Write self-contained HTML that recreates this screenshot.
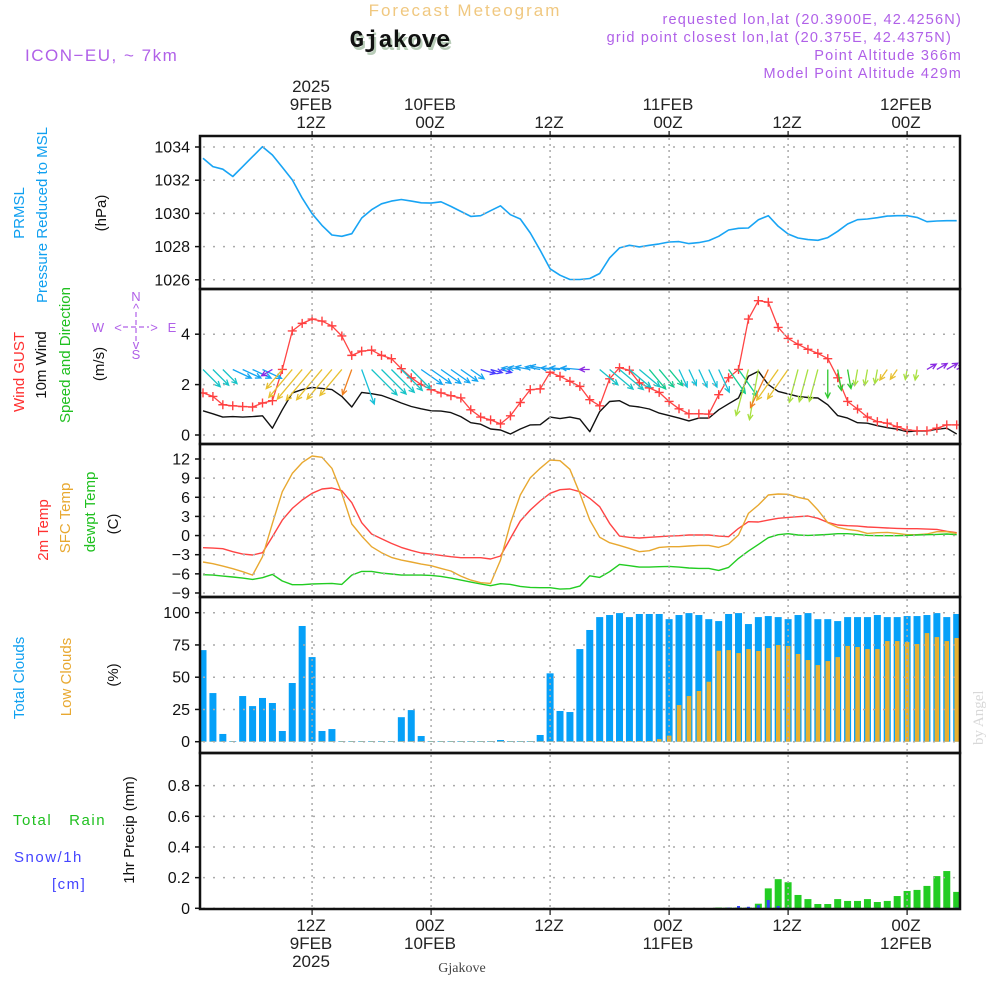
<!DOCTYPE html>
<html><head><meta charset="utf-8"><style>
html,body{margin:0;padding:0;background:#fff;}
svg{display:block;font-family:"Liberation Sans","DejaVu Sans",sans-serif;}
</style></head><body>
<svg id="chart" width="1000" height="1000" viewBox="0 0 1000 1000" xmlns="http://www.w3.org/2000/svg">
<defs><clipPath id="plotclip"><rect x="200" y="136" width="760" height="774"/></clipPath></defs>
<g id="texts">
<text x="465" y="16" font-size="17" fill="#f0c880" text-anchor="middle" letter-spacing="2">Forecast Meteogram</text>
<text x="402" y="50" font-size="24" font-weight="bold" fill="#b8ccb8" text-anchor="middle" font-family="Liberation Mono, monospace">Gjakove</text>
<text x="400" y="47" font-size="24" font-weight="bold" fill="#111" text-anchor="middle" font-family="Liberation Mono, monospace">Gjakove</text>
<text x="25" y="61" font-size="17" fill="#b060e8" letter-spacing="1.5">ICON−EU, ~ 7km</text>
<g fill="#b060e8" font-size="14.5" text-anchor="end" letter-spacing="1.2">
<text x="962" y="24">requested lon,lat (20.3900E, 42.4256N)</text>
<text x="952" y="42">grid point closest lon,lat (20.375E, 42.4375N)</text>
<text x="962" y="60">Point Altitude 366m</text>
<text x="962" y="78">Model Point Altitude 429m</text>
</g>
<g fill="#222" font-size="17" text-anchor="middle">
<text x="311" y="92">2025</text>
<text x="311" y="110">9FEB</text>
<text x="311" y="128">12Z</text>
<text x="430" y="110">10FEB</text>
<text x="430" y="128">00Z</text>
<text x="549" y="128">12Z</text>
<text x="668" y="110">11FEB</text>
<text x="668" y="128">00Z</text>
<text x="787" y="128">12Z</text>
<text x="906" y="110">12FEB</text>
<text x="906" y="128">00Z</text>
<text x="311" y="931">12Z</text>
<text x="311" y="949">9FEB</text>
<text x="311" y="967">2025</text>
<text x="430" y="931">00Z</text>
<text x="430" y="949">10FEB</text>
<text x="549" y="931">12Z</text>
<text x="668" y="931">00Z</text>
<text x="668" y="949">11FEB</text>
<text x="787" y="931">12Z</text>
<text x="906" y="931">00Z</text>
<text x="906" y="949">12FEB</text>
</g>
<text x="462" y="972" font-size="14" fill="#444" text-anchor="middle" font-family="Liberation Serif, serif">Gjakove</text>
<text transform="translate(983,745) rotate(-90)" font-size="15" fill="#d8d8d8" font-family="Liberation Serif, serif">by Angel</text>
<g font-size="15">
<text transform="translate(24,213) rotate(-90)" fill="#10a0f0" text-anchor="middle">PRMSL</text>
<text transform="translate(47,215) rotate(-90)" fill="#10a0f0" text-anchor="middle">Pressure Reduced to MSL</text>
<text transform="translate(106,213) rotate(-90)" fill="#111" text-anchor="middle">(hPa)</text>
<text transform="translate(24,372) rotate(-90)" fill="#ff3030" text-anchor="middle">Wind GUST</text>
<text transform="translate(46,365) rotate(-90)" fill="#111" text-anchor="middle">10m Wind</text>
<text transform="translate(70,355) rotate(-90)" fill="#20c020" text-anchor="middle">Speed and Direction</text>
<text transform="translate(104,364) rotate(-90)" fill="#111" text-anchor="middle">(m/s)</text>
<text transform="translate(48,530) rotate(-90)" fill="#ff3030" text-anchor="middle">2m Temp</text>
<text transform="translate(70,518) rotate(-90)" fill="#e8a830" text-anchor="middle">SFC Temp</text>
<text transform="translate(95,512) rotate(-90)" fill="#20c020" text-anchor="middle">dewpt Temp</text>
<text transform="translate(118,524) rotate(-90)" fill="#111" text-anchor="middle">(C)</text>
<text transform="translate(24,678) rotate(-90)" fill="#10a0f0" text-anchor="middle">Total Clouds</text>
<text transform="translate(71,677) rotate(-90)" fill="#e8a830" text-anchor="middle">Low Clouds</text>
<text transform="translate(118,675) rotate(-90)" fill="#111" text-anchor="middle">(%)</text>
<text transform="translate(134,830) rotate(-90)" fill="#111" text-anchor="middle">1hr Precip (mm)</text>
</g>
<g font-size="15" letter-spacing="1.5">
<text x="13" y="825" fill="#20c020" xml:space="preserve">Total   Rain</text>
<text x="14" y="862" fill="#4444ff">Snow/1h</text>
<text x="52" y="889" fill="#4444ff">[cm]</text>
</g>
<g fill="#b060e8" stroke="none" font-size="13" text-anchor="middle">
<text x="136" y="301">N</text><text x="136" y="359">S</text><text x="98" y="332">W</text><text x="172" y="332">E</text>
<text x="136" y="313">^</text><text x="136" y="349">v</text>
<text x="118" y="332">&lt;</text><text x="154" y="332">&gt;</text>
<line x1="123" y1="327" x2="149" y2="327" stroke="#b060e8" stroke-width="1.2" stroke-dasharray="5,3"/>
<line x1="136" y1="312" x2="136" y2="343" stroke="#b060e8" stroke-width="1.2" stroke-dasharray="5,3"/>
</g>
</g>
<g id="plots"></g>
</svg>
<script>
const pressure=[1033.32,1032.82,1032.66,1032.22,1032.82,1033.42,1034.02,1033.52,1032.78,1032.02,1030.92,1029.98,1029.28,1028.7,1028.62,1028.78,1029.72,1030.22,1030.58,1030.74,1030.84,1030.74,1030.64,1030.62,1030.7,1030.42,1030.12,1029.82,1029.86,1030.16,1030.46,1029.92,1029.66,1028.82,1027.78,1026.66,1026.28,1026.02,1026.02,1026.08,1026.38,1027.32,1027.92,1028.08,1027.98,1028.08,1028.16,1028.28,1028.3,1028.18,1028.24,1028.36,1028.62,1029.0,1029.1,1029.12,1029.62,1029.86,1029.22,1028.76,1028.52,1028.42,1028.38,1028.54,1028.92,1029.36,1029.62,1029.66,1029.74,1029.84,1029.86,1029.86,1029.76,1029.5,1029.54,1029.56,1029.56];
const gust=[1.67,1.53,1.2,1.16,1.13,1.11,1.27,1.36,2.6,4.13,4.43,4.6,4.52,4.33,3.93,3.16,3.33,3.37,3.16,3.03,2.63,2.27,2.0,1.8,1.67,1.56,1.47,1.0,0.71,0.6,0.44,0.76,1.29,1.8,1.83,2.49,2.33,2.13,1.93,1.4,1.16,2.23,2.67,2.57,2.07,1.87,1.69,1.33,1.04,0.84,0.84,0.83,1.6,2.27,2.6,4.6,5.33,5.27,4.27,3.83,3.6,3.4,3.24,3.03,2.27,1.33,1.03,0.71,0.53,0.47,0.33,0.2,0.17,0.17,0.27,0.4,0.4];
const wind=[0.96,0.84,0.71,0.73,0.71,0.73,0.76,0.27,1.0,1.67,1.8,1.89,1.85,1.8,1.53,1.11,1.69,1.64,1.57,1.43,1.27,1.13,1.04,0.96,0.95,0.89,0.73,0.49,0.43,0.24,0.2,0.04,0.24,0.4,0.41,0.71,0.65,0.71,0.63,0.13,0.93,1.33,1.36,1.16,1.11,1.03,0.87,0.77,0.67,0.56,0.67,0.67,1.0,1.24,1.47,2.33,2.53,2.0,1.73,1.63,1.53,1.49,1.47,1.2,0.77,0.67,0.49,0.47,0.37,0.29,0.23,0.13,0.16,0.16,0.23,0.27,0.04];
const windDir=[135,135,135,115,115,115,115,240,220,220,220,220,220,220,220,200,160,135,135,135,135,135,125,125,125,125,125,125,105,105,105,280,280,280,280,280,275,275,275,270,130,130,130,130,130,140,140,140,155,155,155,155,155,145,145,195,190,205,215,215,195,195,195,180,170,170,190,190,190,215,215,190,190,60,60,60,60];
const t2m=[-1.9,-1.96,-2.06,-2.53,-2.9,-3.05,-2.69,-0.18,2.43,4.26,5.57,6.62,7.3,7.45,7.03,5.15,2.02,0.24,-0.49,-1.23,-1.85,-2.32,-2.74,-2.9,-3.11,-3.32,-3.47,-3.47,-3.47,-3.68,-3.21,-0.44,2.28,4.0,5.41,6.62,7.19,7.3,6.88,5.83,4.52,1.91,-0.08,-0.28,-0.39,-0.28,-0.18,-0.08,-0.02,0.08,0.08,0.08,-0.08,-0.18,1.13,2.17,2.12,2.43,2.7,2.85,2.96,3.06,2.7,2.07,1.65,1.55,1.49,1.34,1.28,1.18,1.13,1.07,1.07,1.02,0.97,0.66,0.45];
const sfcTemp=[-4.15,-4.41,-4.78,-5.2,-5.67,-6.19,-3.32,1.91,6.88,9.75,11.43,12.47,12.26,10.54,6.62,1.81,-0.08,-1.75,-2.69,-3.42,-3.84,-4.15,-4.47,-4.73,-5.15,-5.56,-6.35,-6.98,-7.39,-7.5,-3.84,1.91,6.35,9.07,10.54,11.84,11.74,10.38,6.62,2.43,-0.28,-1.12,-1.54,-2.01,-2.53,-2.38,-1.85,-1.75,-1.75,-1.64,-1.54,-1.54,-1.85,-1.33,0.08,3.48,4.79,6.35,6.51,6.46,5.99,5.67,4.0,2.02,1.28,0.97,0.76,0.34,0.45,0.5,0.34,0.13,0.13,0.24,0.6,0.6,0.34];
const dewpt=[-6.14,-6.19,-6.35,-6.5,-6.66,-6.87,-6.61,-6.09,-7.13,-7.71,-7.71,-7.6,-7.55,-7.5,-7.65,-6.19,-5.62,-5.62,-5.88,-6.03,-6.19,-6.19,-6.19,-6.24,-6.4,-6.66,-6.98,-7.29,-7.6,-7.86,-7.55,-7.65,-7.97,-8.13,-8.18,-8.18,-8.39,-8.33,-7.92,-6.3,-6.56,-5.67,-4.52,-4.73,-4.94,-4.94,-4.88,-4.83,-4.94,-5.09,-5.15,-5.15,-5.46,-4.99,-3.58,-2.43,-1.38,-0.34,0.13,0.29,0.08,0.03,0.08,0.18,0.29,0.29,0.18,0.03,-0.02,-0.02,-0.02,0.03,0.08,0.13,0.18,0.24,0.13];
const totalClouds=[71,37.7,6,0.5,35.4,27.6,33.9,30,8.3,45.5,89.7,65.6,8.3,9.8,0.5,0.5,0.5,0.5,0.5,0.5,19,24.5,4.4,0.5,0.5,0.5,0.5,0.5,0.5,0.5,1.3,0.5,0.5,0.5,5.2,53,23.8,23,71.8,86.6,96.6,98.2,99.7,96.6,99,99,99,95,98.2,99.7,98.2,95,93.5,99,99.7,91.2,96.6,97.4,96.6,95,98.2,99.7,95,95,93.5,96.6,96.6,96.6,98.2,96.6,96.6,97.4,97.4,98.2,99.7,96.6,99];
const lowClouds=[0.3,0.3,0.3,0.3,0.3,0.3,0.3,0.3,0.3,0.3,0.3,0.3,0.3,0.3,0.3,0.3,0.3,0.3,0.3,0.3,0.3,0.3,0.3,0.3,0.3,0.3,0.3,0.3,0.3,0.3,0.3,0.3,0.3,0.3,0.3,0.3,0.3,0.3,0.3,0.5,0.5,0.5,0.5,0.5,0.5,0.5,2,4.7,28.4,35.4,39.3,46.5,70.5,71,68.7,71.8,70.3,72.6,74.9,74.2,68,63.3,59.4,62.5,65.6,74.2,73.4,71.8,71.8,78,78,77.3,75.7,84.2,81.1,78,80.4];
const rain=[0,0,0,0,0,0,0,0,0,0,0,0,0,0,0,0,0,0,0,0,0,0,0,0,0,0,0,0,0,0,0,0,0,0,0,0,0,0,0,0,0,0,0,0,0,0,0,0,0,0,0,0,0.005,0.005,0.005,0.005,0.03,0.13,0.19,0.17,0.087,0.06,0.028,0.028,0.06,0.048,0.048,0.06,0.041,0.048,0.08,0.113,0.12,0.146,0.21,0.243,0.107];
const snow=[0,0,0,0,0,0,0,0,0,0,0,0,0,0,0,0,0,0,0,0,0,0,0,0,0,0,0,0,0,0,0,0,0,0,0,0,0,0,0,0,0,0,0,0,0,0,0,0,0,0,0,0,0,0.005,0.015,0.01,0.02,0.054,0.015,0.005,0,0,0,0,0,0,0,0,0,0,0,0,0,0,0.005,0,0.005];
const pTicks=[1026,1028,1030,1032,1034];
const wTicks=[0,2,4];
const tTicks=[-9,-6,-3,0,3,6,9,12];
const cTicks=[0,25,50,75,100];
const rTicks=[0,0.2,0.4,0.6,0.8];
const dayLines=[12,24,36,48,60,72];

const NS='http://www.w3.org/2000/svg';
const root=document.getElementById('plots');
function mk(tag,attrs,parent){const e=document.createElementNS(NS,tag);for(const k in attrs)e.setAttribute(k,attrs[k]);(parent||root).appendChild(e);return e;}
const xOf=i=>203+i*9.917;
const xHour=h=>203+(h-1)*9.917;
const yP=v=>147+(1034-v)*16.6;
const yW=v=>435-v*25.2;
const yT=v=>459+(12-v)*6.38;
const yC=v=>741.7-v*1.29;
const yR=v=>908.3-v*153.3;
const panels=[
 {name:'pressure',top:136,bot:289,ticks:pTicks,f:yP,fmt:v=>String(v)},
 {name:'wind',top:289,bot:444,ticks:wTicks,f:yW,fmt:v=>String(v)},
 {name:'temperature',top:444,bot:597,ticks:tTicks,f:yT,fmt:v=>v<0?'−'+(-v):String(v)},
 {name:'clouds',top:597,bot:753,ticks:cTicks,f:yC,fmt:v=>String(v)},
 {name:'precip',top:753,bot:909,ticks:rTicks,f:yR,fmt:v=>v===0?'0':v.toFixed(1)}
];
const plotG=mk('g',{'clip-path':'url(#plotclip)'});
panels.forEach(p=>{
 const g=mk('g',{});
 
 
 p.ticks.forEach(v=>{
  const y=p.f(v);
  const l=mk('line',{x1:203,x2:958,y1:y,y2:y,stroke:'#aaa','stroke-width':1.5,'stroke-dasharray':'2,8'},g);
  
  
  const tk=mk('line',{x1:195,x2:200,y1:y,y2:y,stroke:'#111','stroke-width':1.5},g);
  
  
  const t=mk('text',{x:190,y:y+5.5,'font-size':16,fill:'#111','text-anchor':'end'},g);
  t.textContent=p.fmt(v);
  
  
 });
 dayLines.forEach(h=>{
  const x=xHour(h);
  const l=mk('line',{x1:x,x2:x,y1:p.top+2,y2:p.bot-2,stroke:'#aaa','stroke-width':1.5,'stroke-dasharray':'2,4'},g);
  
  
 });
});
dayLines.forEach(h=>{
 const x=xHour(h);
 mk('line',{x1:x,x2:x,y1:131,y2:136,stroke:'#111','stroke-width':1.2});
 mk('line',{x1:x,x2:x,y1:909,y2:915,stroke:'#111','stroke-width':1.2});
});
totalClouds.forEach((v,i)=>{
 const r=mk('rect',{x:xOf(i)-3.5,y:yC(v),width:7,height:yC(0)-yC(v),fill:'#05a0f8'},plotG);
 
 
});
lowClouds.forEach((v,i)=>{
 const r=mk('rect',{x:xOf(i)-2.2,y:yC(v),width:4.5,height:yC(0)-yC(v),fill:'#e8b030'},plotG);
 
 
});
rain.forEach((v,i)=>{
 if(v<=0)return;
 const r=mk('rect',{x:xOf(i)-3.5,y:yR(v),width:7,height:yR(0)-yR(v),fill:'#22cc22'},plotG);
 
 
});
snow.forEach((v,i)=>{
 if(v<=0)return;
 const r=mk('rect',{x:xOf(i)-1.5,y:yR(v),width:3,height:yR(0)-yR(v),fill:'#3344ff'},plotG);
 
 
});
function line(arr,f,color,w,name){
 const d=arr.map((v,i)=>(i?'L':'M')+xOf(i).toFixed(1)+','+f(v).toFixed(1)).join('');
 const p=mk('path',{d:d,fill:'none',stroke:color,'stroke-width':w,'stroke-linejoin':'round'},plotG);
 
 
}
line(pressure,yP,'#18a4f4',1.6,'pressure-line');
line(wind,yW,'#111',1.4,'wind-speed-line');
line(gust,yW,'#ff4444',1.3,'wind-gust-line');
gust.forEach((v,i)=>{
 const x=xOf(i),y=yW(v);
 const m=mk('path',{d:`M${x-4.5},${y}H${x+4.5}M${x},${y-4.5}V${y+4.5}`,stroke:'#ff4040','stroke-width':1.4},plotG);
 
 
});
function dirColor(b){
 if(b<90)return '#8a2be2';
 if(b<112)return '#4a3cff';
 if(b<128)return '#12a6f2';
 if(b<138)return '#18c4c8';
 if(b<150)return '#14cc90';
 if(b<165)return '#18c0d8';
 if(b<185)return '#30c830';
 if(b<200)return '#a8e040';
 if(b<212)return '#f08020';
 if(b<230)return '#e8c030';
 if(b<272)return '#8a2be2';
 return '#18a0f0';
}
const baseY=yW(2.6);
windDir.forEach((b,i)=>{
 const L=Math.min(52,8+wind[i]*17);
 const rad=b*Math.PI/180;
 const x0=xOf(i),y0=baseY;
 const x1=x0+L*Math.sin(rad),y1=y0-L*Math.cos(rad);
 const a1=rad+Math.PI-0.45,a2=rad+Math.PI+0.45;
 const h=6;
 const c=dirColor(b);
 const p=mk('path',{d:`M${x0},${y0}L${x1},${y1}M${x1+h*Math.sin(a1)},${y1-h*Math.cos(a1)}L${x1},${y1}L${x1+h*Math.sin(a2)},${y1-h*Math.cos(a2)}`,stroke:c,'stroke-width':1.3,fill:'none'},plotG);
 
 
});
line(t2m,yT,'#ff4444',1.4,'temp-2m-line');
line(sfcTemp,yT,'#e8a830',1.4,'sfc-temp-line');
line(dewpt,yT,'#22cc22',1.4,'dewpoint-line');
panels.forEach(p=>{
 const r=mk('rect',{x:200,y:p.top,width:760,height:p.bot-p.top,fill:'none',stroke:'#111','stroke-width':2.5});
 
 
});
</script>
</body></html>
